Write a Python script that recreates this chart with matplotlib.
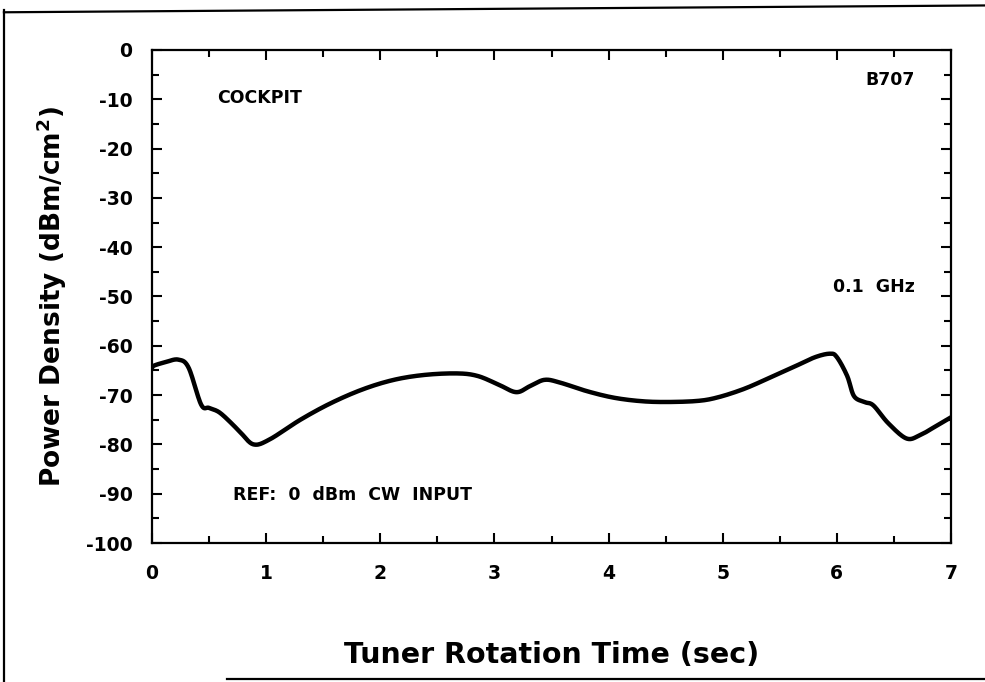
import matplotlib
matplotlib.use('Agg')
import matplotlib.pyplot as plt
from matplotlib.lines import Line2D
from matplotlib.ticker import MultipleLocator
import numpy as np

# curve
time_sec = [0.0, 0.02, 0.12, 0.23, 0.32, 0.43, 0.50, 0.59, 0.70, 0.78, 0.89,
            1.03, 1.30, 1.57, 1.85, 2.12, 2.39, 2.67, 2.85, 3.03, 3.19, 3.31,
            3.44, 3.58, 3.81, 4.04, 4.27, 4.49, 4.77, 4.95, 5.18, 5.40, 5.63,
            5.81, 5.94, 6.00, 6.09, 6.15, 6.24, 6.32, 6.45, 6.61, 6.73, 6.86, 7.0]
power_dbm = [-64.5, -64.0, -63.3, -62.8, -64.4, -71.9, -72.6, -73.5, -75.8, -77.7, -80.0,
             -79.0, -75.0, -71.6, -68.8, -66.9, -65.9, -65.6, -66.1, -67.8, -69.4, -68.2,
             -66.9, -67.5, -69.2, -70.5, -71.2, -71.4, -71.2, -70.5, -68.8, -66.6, -64.2,
             -62.3, -61.6, -62.3, -66.1, -70.2, -71.4, -72.1, -75.7, -78.8, -78.1, -76.4, -74.5]

x_ticks = [0, 1, 2, 3, 4, 5, 6, 7]
y_ticks = [0, -10, -20, -30, -40, -50, -60, -70, -80, -90, -100]

plt.rcParams['font.family'] = 'DejaVu Sans'
plt.rcParams['font.weight'] = 'bold'
plt.rcParams['axes.unicode_minus'] = False

fig = plt.figure(figsize=(9.85, 6.82), dpi=100)
ax = fig.add_axes([0.1543, 0.2038, 0.8112, 0.7229])


# catmull-rom through the read points so the trace looks like a pen plot
def catmull(x, y, n=20):
    px, py = [], []
    xx = np.concatenate([[x[0]], x, [x[-1]]])
    yy = np.concatenate([[y[0]], y, [y[-1]]])
    for i in range(1, len(xx) - 2):
        t = np.linspace(0, 1, n, endpoint=False)
        for arr, out in ((xx, px), (yy, py)):
            p0, p1, p2, p3 = arr[i - 1], arr[i], arr[i + 1], arr[i + 2]
            out.extend(0.5 * ((2 * p1) + (-p0 + p2) * t + (2 * p0 - 5 * p1 + 4 * p2 - p3) * t ** 2
                              + (-p0 + 3 * p1 - 3 * p2 + p3) * t ** 3))
    px.append(x[-1]); py.append(y[-1])
    return px, py


cx, cy = catmull(np.array(time_sec), np.array(power_dbm))
ax.plot(cx, cy, color='black', lw=3.2, solid_capstyle='round')

ax.set_xlim(0, 7)
ax.set_ylim(-100, 0)
ax.set_xticks(x_ticks)
ax.set_yticks(y_ticks)
ax.xaxis.set_minor_locator(MultipleLocator(0.5))
ax.yaxis.set_minor_locator(MultipleLocator(5))
ax.tick_params(which='both', direction='in', top=True, right=True, width=1.5, labelsize=13.5)
ax.tick_params(which='major', length=7)
ax.tick_params(which='minor', length=5)
ax.tick_params(axis='x', pad=15)
ax.tick_params(axis='y', pad=14)
for lab in ax.get_xticklabels() + ax.get_yticklabels():
    lab.set_fontweight('bold')
for sp in ax.spines.values():
    sp.set_linewidth(1.6)

ax.set_xlabel('Tuner Rotation Time (sec)', fontsize=20.5, fontweight='bold', labelpad=42)
ax.set_ylabel('Power Density (dBm/cm$^\\mathbf{2}$)', fontsize=19, fontweight='bold', labelpad=12)

ax.text(0.57, -9.7, 'COCKPIT', fontsize=12.5, fontweight='bold', va='center', ha='left')
ax.text(6.68, -6.1, 'B707', fontsize=12.5, fontweight='bold', va='center', ha='right')
ax.text(6.68, -48, '0.1  GHz', fontsize=12.5, fontweight='bold', va='center', ha='right')
ax.text(0.71, -90.3, 'REF:  0  dBm  CW  INPUT', fontsize=12.5, fontweight='bold', va='center', ha='left')

# scanned page frame
fig.add_artist(Line2D([0.004, 0.004], [0.0, 0.985], transform=fig.transFigure, color='black', lw=1.6))
fig.add_artist(Line2D([0.004, 1.0], [0.982, 0.992], transform=fig.transFigure, color='black', lw=1.6))
fig.add_artist(Line2D([0.23, 1.0], [0.004, 0.004], transform=fig.transFigure, color='black', lw=1.6))

fig.savefig('out.png', dpi=100)
